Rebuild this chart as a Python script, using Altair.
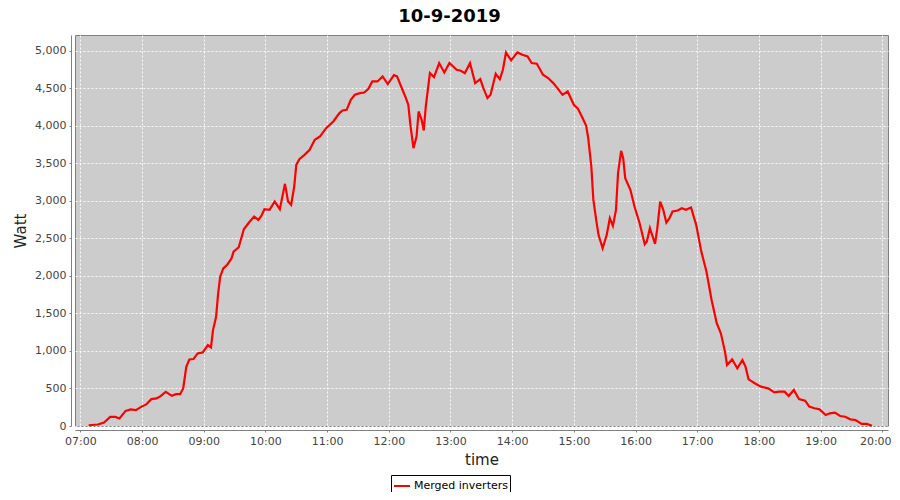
import altair as alt
import pandas as pd

times = ["07:08","07:17","07:23","07:29","07:34","07:38","07:44","07:49","07:54","07:59",
         "08:04","08:09","08:14","08:18","08:23","08:29","08:33","08:37","08:40","08:43",
         "08:46","08:50","08:54","08:59","09:04","09:07","09:09","09:12","09:14","09:16",
         "09:19","09:23","09:27","09:29","09:34","09:39","09:44","09:49","09:53","09:56",
         "09:59","10:04","10:09","10:14","10:19","10:22","10:25","10:28","10:30","10:33",
         "10:38","10:43","10:48","10:53","10:59","11:06","11:12","11:15","11:19","11:23",
         "11:27","11:32","11:36","11:40","11:44","11:49","11:54","11:59","12:05","12:08",
         "12:12","12:16","12:19","12:21","12:24","12:27","12:29","12:32","12:34","12:36",
         "12:40","12:44","12:49","12:54","12:59","13:06","13:10","13:14","13:19","13:24",
         "13:29","13:32","13:36","13:39","13:44","13:48","13:51","13:54","13:59","14:05",
         "14:10","14:15","14:19","14:24","14:30","14:35","14:40","14:44","14:49","14:54",
         "15:00","15:04","15:08","15:12","15:14","15:17","15:19","15:22","15:24","15:28",
         "15:32","15:35","15:38","15:41","15:43","15:46","15:48","15:50","15:55","15:59",
         "16:04","16:09","16:11","16:14","16:19","16:21","16:24","16:27","16:30","16:33",
         "16:36","16:41","16:45","16:49","16:54","16:59","17:04","17:09","17:14","17:19",
         "17:23","17:27","17:29","17:34","17:39","17:44","17:47","17:50","17:56","18:02",
         "18:09","18:15","18:20","18:25","18:29","18:34","18:39","18:45","18:49","18:54",
         "18:59","19:05","19:09","19:14","19:19","19:24","19:29","19:34","19:40","19:45",
         "19:50"]

watts = [10,20,47,121,121,100,201,220,211,255,
         287,358,367,398,455,402,424,424,500,789,
         887,892,967,980,1078,1047,1278,1456,1767,1989,
         2100,2153,2233,2324,2382,2622,2711,2791,2747,2800,
         2889,2880,2991,2889,3227,2991,2947,3191,3480,3556,
         3613,3680,3813,3857,3969,4058,4169,4204,4213,4347,
         4413,4436,4444,4489,4591,4591,4658,4556,4676,4658,
         4524,4391,4280,4013,3703,3857,4191,4080,3938,4258,
         4702,4649,4836,4711,4836,4747,4733,4702,4836,4569,
         4622,4502,4369,4413,4693,4622,4747,4978,4871,4978,
         4947,4924,4836,4827,4680,4636,4569,4502,4413,4458,
         4280,4227,4116,4000,3836,3458,3013,2724,2547,2369,
         2547,2769,2667,2880,3369,3667,3569,3303,3147,2924,
         2702,2422,2458,2636,2427,2613,2991,2880,2711,2769,
         2858,2871,2902,2880,2911,2680,2324,2058,1680,1369,
         1236,991,813,889,769,880,791,622,569,524,
         502,449,458,458,400,480,360,338,258,236,
         222,147,169,178,133,124,89,80,27,27,
         4]

series_name = ["Merged inverters"]
hour_ticks = list(range(7, 21))
watt_ticks = list(range(0, 5001, 500))

hours = [int(t[:2]) + int(t[3:]) / 60 for t in times]
df = pd.DataFrame({"hour": hours, "watt": watts, "series": series_name[0]})

FONT = "DejaVu Sans"

chart = alt.Chart(df).mark_line(strokeWidth=2.2, interpolate="linear").encode(
    x=alt.X("hour:Q",
            scale=alt.Scale(domain=[6.9125, 20.0934], nice=False, zero=False),
            axis=alt.Axis(values=hour_ticks, title="time",
                          labelExpr="(datum.value < 10 ? '0' : '') + datum.value + ':00'",
                          labelOffset={"condition": {"test": "datum.value == 20", "value": -7},
                                       "value": 0},
                          offset=4, tickSize=2, labelPadding=3, titlePadding=6)),
    y=alt.Y("watt:Q",
            scale=alt.Scale(domain=[0, 5210], nice=False),
            axis=alt.Axis(values=watt_ticks, title="Watt", format=",.0f",
                          offset=4, tickSize=2, labelPadding=3, titlePadding=6)),
    color=alt.Color("series:N",
                    scale=alt.Scale(domain=series_name, range=["#ff0000"]),
                    legend=alt.Legend(title=None, orient="none", legendX=316, legendY=440,
                                      symbolType="stroke", symbolSize=256,
                                      symbolStrokeWidth=2, labelFont=FONT,
                                      labelFontSize=11, labelColor="#000000",
                                      strokeColor="#000000", padding=2,
                                      labelOffset=3)),
).properties(
    width=813, height=391,
    background="#ffffff",
    title=alt.TitleParams("10-9-2019", font=FONT, fontSize=18, fontWeight="bold",
                          color="#000000", anchor="middle", dx=-32, offset=9),
    autosize=alt.AutoSizeParams(type="none"),
    padding={"left": 67, "top": 27, "right": 4, "bottom": 66},
).configure_view(
    fill="#cccccc", stroke="#808080", strokeWidth=1
).configure_axis(
    grid=True, gridColor="#ffffff", gridDash=[2, 2], gridWidth=1, gridOpacity=0.9,
    domainColor="#808080", tickColor="#808080",
    labelFont=FONT, labelFontSize=11, labelColor="#444444",
    titleFont=FONT, titleFontSize=15, titleFontWeight="normal", titleColor="#222222",
)

chart.save("out.html", embed_options={"renderer": "svg", "actions": False})
